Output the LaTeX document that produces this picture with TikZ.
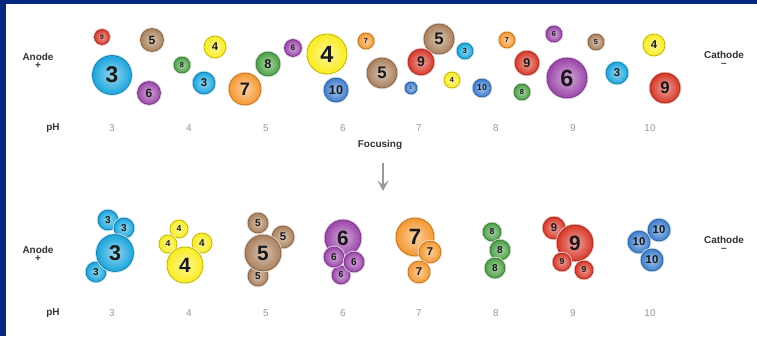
\documentclass[tikz,border=0pt]{standalone}
\usepackage{fontspec}
\setmainfont{Liberation Sans}
\usepackage{xcolor}
\usepackage{tikz}
\usetikzlibrary{arrows.meta, positioning}

\definecolor{framec}{RGB}{6,40,128}
\definecolor{ionthree}{RGB}{25,165,220}
\definecolor{ionfour}{RGB}{250,236,30}
\definecolor{ionfive}{RGB}{170,128,92}
\definecolor{ionsix}{RGB}{155,70,170}
\definecolor{ionseven}{RGB}{245,152,48}
\definecolor{ioneight}{RGB}{75,160,70}
\definecolor{ionnine}{RGB}{215,55,40}
\definecolor{ionten}{RGB}{60,125,205}

\begin{document}
\begin{tikzpicture}[
    x=0.03cm, y=-0.03cm,
    >=Stealth,
    ion/.style 2 args={circle, inner sep=0pt, minimum size={0.06cm*#2},
      inner color=#1!45!white, outer color=#1, draw=#1!70!black, line width=0.5pt,
      preaction={draw=#1!30!white, line width=2.2pt},
      text=black!90,
      font={\pgfmathsetmacro\ionfs{1.15*#2-3}\fontsize{\ionfs pt}{\ionfs pt}\selectfont\bfseries}},
    side/.style={font=\bfseries\fontsize{8.5}{7}\selectfont, align=center, text=black!80},
    phval/.style={font=\fontsize{8.5}{9}\selectfont, text=black!40},
    flow/.style={->, line width=1.8pt, black!40},
  ]
  \useasboundingbox (0,0) rectangle (757,336);
  \fill[white] (0,0) rectangle (757,336);
  % frame
  \fill[framec] (0,0) rectangle (757,4);
  \fill[framec] (0,0) rectangle (6,336);

  % Before focusing
  \node[side] (an1) at (38,61) {Anode\\+};
  \node[side] (ca1) at (724,59) {Cathode\\–};
  \node[ion={ionnine}{7.5}] (t9a) at (102,37) {9};
  \node[ion={ionthree}{19.5}] (t3a) at (112,75) {3};
  \node[ion={ionfive}{11.5}] (t5a) at (152,40) {5};
  \node[ion={ionsix}{11.5}] (t6a) at (149,93) {6};
  \node[ion={ioneight}{8}] (t8a) at (182,65) {8};
  \node[ion={ionfour}{11}] (t4a) at (215,47) {4};
  \node[ion={ionthree}{11}] (t3b) at (204,83) {3};
  \node[ion={ionseven}{16}] (t7a) at (245,89) {7};
  \node[ion={ioneight}{12}] (t8b) at (268,64) {8};
  \node[ion={ionsix}{8.5}] (t6b) at (293,48) {6};
  \node[ion={ionfour}{20}] (t4b) at (327,54) {4};
  \node[ion={ionten}{12}] (t10a) at (336,90) {10};
  \node[ion={ionseven}{8}] (t7b) at (366,41) {7};
  \node[ion={ionfive}{15}] (t5b) at (382,73) {5};
  \node[ion={ionfive}{15}] (t5c) at (439,39) {5};
  \node[ion={ionnine}{13}] (t9b) at (421,62) {9};
  \node[ion={ionten}{6}] (t10b) at (411,88) {1};
  \node[ion={ionfour}{8}] (t4c) at (452,80) {4};
  \node[ion={ionthree}{8}] (t3c) at (465,51) {3};
  \node[ion={ionten}{9}] (t10c) at (482,88) {10};
  \node[ion={ionseven}{8}] (t7c) at (507,40) {7};
  \node[ion={ionnine}{12}] (t9c) at (527,63) {9};
  \node[ion={ioneight}{8}] (t8c) at (522,92) {8};
  \node[ion={ionsix}{8}] (t6c) at (554,34) {6};
  \node[ion={ionsix}{20}] (t6d) at (567,78) {6};
  \node[ion={ionfive}{8}] (t5d) at (596,42) {5};
  \node[ion={ionthree}{11}] (t3d) at (617,73) {3};
  \node[ion={ionfour}{11}] (t4d) at (654,45) {4};
  \node[ion={ionnine}{15}] (t9d) at (665,88) {9};
  % pH scale
  \node[side, font=\bfseries\fontsize{8.5}{9}\selectfont] (ph1) at (53,128) {pH};
  \node[phval] (p3a) at (112,128) {3};
  \node[phval] (p4a) at (189,128) {4};
  \node[phval] (p5a) at (266,128) {5};
  \node[phval] (p6a) at (343,128) {6};
  \node[phval] (p7a) at (419,128) {7};
  \node[phval] (p8a) at (496,128) {8};
  \node[phval] (p9a) at (573,128) {9};
  \node[phval] (p10a) at (650,128) {10};

  % Focusing step
  \node[side, font=\bfseries\fontsize{8.5}{9}\selectfont] (focus) at (380,145) {Focusing};
  \coordinate (arrtop) at (383,163);
  \coordinate (arrbot) at (383,191);
  \draw[flow, -{Stealth[length=3.2mm, width=3.4mm, inset=1.4mm]}] (arrtop) -- (arrbot);

  % After focusing
  \node[side] (an2) at (38,254) {Anode\\+};
  \node[side] (ca2) at (724,244) {Cathode\\–};
  % pH 3
  \node[ion={ionthree}{10}] (b3b) at (108,220) {3};
  \node[ion={ionthree}{10}] (b3c) at (124,228) {3};
  \node[ion={ionthree}{10}] (b3d) at (96,272) {3};
  \node[ion={ionthree}{18.5}] (b3a) at (115,253) {3};
  % pH 4
  \node[ion={ionfour}{9}] (b4b) at (179,229) {4};
  \node[ion={ionfour}{9}] (b4c) at (168,244) {4};
  \node[ion={ionfour}{10}] (b4d) at (202,243) {4};
  \node[ion={ionfour}{18}] (b4a) at (185,265) {4};
  % pH 5
  \node[ion={ionfive}{10}] (b5b) at (258,223) {5};
  \node[ion={ionfive}{11}] (b5c) at (283,237) {5};
  \node[ion={ionfive}{10}] (b5d) at (258,276) {5};
  \node[ion={ionfive}{18}] (b5a) at (263,253) {5};
  % pH 6
  \node[ion={ionsix}{18}] (b6a) at (343,238) {6};
  \node[ion={ionsix}{9}] (b6d) at (341,275) {6};
  \node[ion={ionsix}{10}] (b6b) at (334,257) {6};
  \node[ion={ionsix}{10}] (b6c) at (354,262) {6};
  % pH 7
  \node[ion={ionseven}{19}] (b7a) at (415,237) {7};
  \node[ion={ionseven}{11}] (b7b) at (430,252) {7};
  \node[ion={ionseven}{11}] (b7c) at (419,272) {7};
  % pH 8
  \node[ion={ioneight}{9}] (b8a) at (492,232) {8};
  \node[ion={ioneight}{10}] (b8b) at (500,250) {8};
  \node[ion={ioneight}{10}] (b8c) at (495,268) {8};
  % pH 9
  \node[ion={ionnine}{11}] (b9b) at (554,228) {9};
  \node[ion={ionnine}{18}] (b9a) at (575,243) {9};
  \node[ion={ionnine}{9}] (b9c) at (562,262) {9};
  \node[ion={ionnine}{9}] (b9d) at (584,270) {9};
  % pH 10
  \node[ion={ionten}{11}] (b10a) at (659,230) {10};
  \node[ion={ionten}{11}] (b10b) at (639,242) {10};
  \node[ion={ionten}{11}] (b10c) at (652,260) {10};
  % pH scale
  \node[side, font=\bfseries\fontsize{8.5}{9}\selectfont] (ph2) at (53,313) {pH};
  \node[phval] (p3b) at (112,313) {3};
  \node[phval] (p4b) at (189,313) {4};
  \node[phval] (p5b) at (266,313) {5};
  \node[phval] (p6b) at (343,313) {6};
  \node[phval] (p7b) at (419,313) {7};
  \node[phval] (p8b) at (496,313) {8};
  \node[phval] (p9b) at (573,313) {9};
  \node[phval] (p10b) at (650,313) {10};
\end{tikzpicture}
\end{document}
